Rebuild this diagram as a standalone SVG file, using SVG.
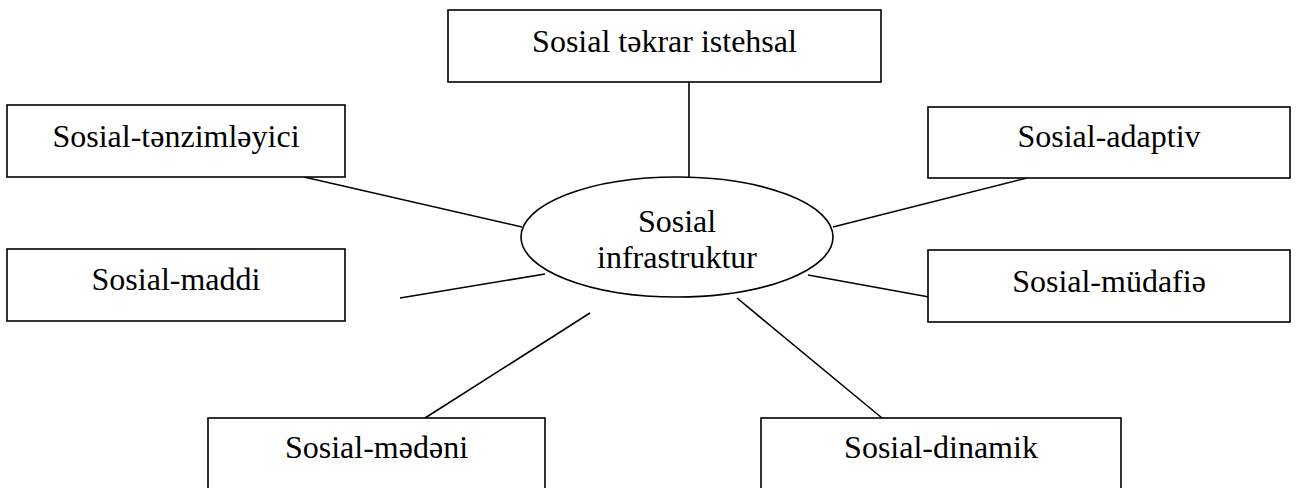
<svg xmlns="http://www.w3.org/2000/svg" width="1296" height="488" viewBox="0 0 1296 488">
  <style>
    .box { fill: #ffffff; stroke: #000000; stroke-width: 1.6; }
    .hub { fill: #ffffff; stroke: #000000; stroke-width: 1.6; }
    .link { stroke: #000000; stroke-width: 1.6; fill: none; }
    .label { font-family: "Liberation Serif", "Times New Roman", serif; font-size: 32px; fill: #000000; text-anchor: middle; }
  </style>
  <rect width="1296" height="488" fill="#ffffff"/>

  <!-- spokes from the hub to the surrounding blocks -->
  <g id="connectors">
    <line class="link" x1="689" y1="82" x2="689" y2="177"/>
    <line class="link" x1="304" y1="177" x2="522" y2="227"/>
    <line class="link" x1="1027" y1="178" x2="833" y2="227"/>
    <line class="link" x1="400" y1="298" x2="545" y2="274"/>
    <line class="link" x1="808" y1="275" x2="929" y2="297"/>
    <line class="link" x1="590" y1="313" x2="425" y2="418"/>
    <line class="link" x1="737" y1="298" x2="882" y2="418"/>
  </g>

  <g id="hub">
    <ellipse class="hub" cx="677" cy="237" rx="156" ry="60"/>
    <text class="label" x="677" y="232">Sosial</text>
    <text class="label" x="677" y="268">infrastruktur</text>
  </g>

  <g id="node-tekrar">
    <rect class="box" x="448" y="10" width="433" height="72"/>
    <text class="label" x="664.5" y="52">Sosial təkrar istehsal</text>
  </g>

  <g id="node-tenzimleyici">
    <rect class="box" x="7" y="105" width="338" height="72"/>
    <text class="label" x="176" y="147">Sosial-tənzimləyici</text>
  </g>

  <g id="node-adaptiv">
    <rect class="box" x="928" y="107" width="362" height="71"/>
    <text class="label" x="1109" y="147">Sosial-adaptiv</text>
  </g>

  <g id="node-maddi">
    <rect class="box" x="7" y="249" width="338" height="72"/>
    <text class="label" x="176" y="290">Sosial-maddi</text>
  </g>

  <g id="node-mudafie">
    <rect class="box" x="928" y="250" width="362" height="72"/>
    <text class="label" x="1109" y="292">Sosial-müdafiə</text>
  </g>

  <g id="node-medeni">
    <rect class="box" x="208" y="418" width="337" height="74"/>
    <text class="label" x="376.5" y="458">Sosial-mədəni</text>
  </g>

  <g id="node-dinamik">
    <rect class="box" x="761" y="418" width="360" height="74"/>
    <text class="label" x="941" y="458">Sosial-dinamik</text>
  </g>
</svg>
